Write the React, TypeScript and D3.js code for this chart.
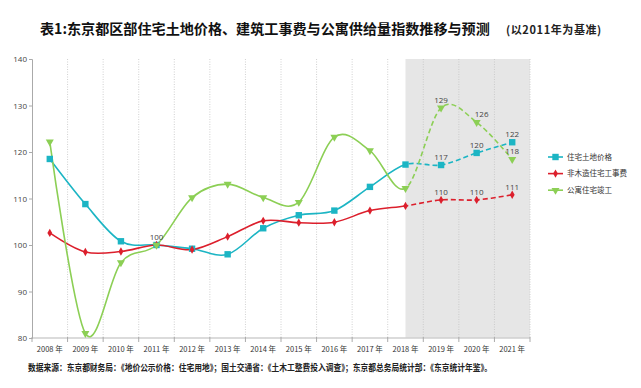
import * as d3 from "d3";
import { useRef, useEffect } from "react";

const years = ["2008", "2009", "2010", "2011", "2012", "2013", "2014", "2015", "2016", "2017", "2018", "2019", "2020", "2021"];
const landPrice = [118.5, 108.8, 100.8, 100, 99.2, 98.0, 103.6, 106.4, 107.4, 112.5, 117.3, 117.2, 119.8, 122.1];
const buildCost = [102.6, 98.5, 98.6, 100, 99.0, 101.8, 105.2, 104.8, 104.9, 107.4, 108.4, 109.7, 109.7, 110.8];
const aptSupply = [122.2, 81.0, 96.2, 100, 110.2, 113.1, 110.2, 109.2, 123.2, 120.3, 112.2, 129.5, 126.4, 118.4];
const seriesNames = ["住宅土地价格", "非木造住宅工事费", "公寓住宅竣工"];
const forecastFrom = "2018";
const labels: { s: number; i: number; text: string; dx: number }[] = [
    { s: 2, i: 3, text: "100", dx: 0 },
    { s: 0, i: 11, text: "117", dx: 0 },
    { s: 0, i: 12, text: "120", dx: 0 },
    { s: 0, i: 13, text: "122", dx: 0 },
    { s: 1, i: 11, text: "110", dx: 0 },
    { s: 1, i: 12, text: "110", dx: 0 },
    { s: 1, i: 13, text: "111", dx: 0 },
    { s: 2, i: 11, text: "129", dx: 0 },
    { s: 2, i: 12, text: "126", dx: 5 },
    { s: 2, i: 13, text: "118", dx: 0 },
];

export default function App() {
    const width = 641;
    const height = 388;
    const left = 32;
    const right = 530;
    const top = 59;
    const bottom = 338;
    const gy = useRef<SVGGElement>(null);
    const x = d3.scaleBand(years, [left, right]);
    const bw = x.bandwidth();
    const cx = (d: string) => (x(d) as number) + bw / 2;
    const y = d3.scaleLinear([80, 140], [bottom, top]);
    const all = [landPrice, buildCost, aptSupply];
    const colors = ["#1cb5c4", "#dc1f2c", "#8ccf55"];
    const line = d3.line<number>((_, i) => cx(years[i]), (d) => y(d)).curve(d3.curveCardinal.tension(0));
    const splitX = cx(forecastFrom);

    useEffect(() => {
        if (gy.current) {
            const g = d3.select(gy.current);
            g.selectAll("*").remove();
            g.call(d3.axisLeft(y).ticks(6).tickSize(3).tickPadding(2));
            g.select(".domain").attr("stroke", "#aaa");
            g.selectAll(".tick line").attr("stroke", "#aaa");
            g.selectAll(".tick text").attr("fill", "#444").attr("font-size", 8).attr("font-family", "Open Sans, sans-serif");
        }
    }, [gy, y]);

    const marker = (s: number, px: number, py: number, key: string) => {
        if (s === 0) return <rect key={key} x={px - 3.2} y={py - 3.2} width={6.4} height={6.4} fill={colors[0]} />;
        if (s === 1) return <path key={key} transform={`translate(${px},${py})`} d={d3.symbol(d3.symbolDiamond, 20)() || ""} fill={colors[1]} />;
        return <path key={key} transform={`translate(${px},${py}) rotate(180)`} d={d3.symbol(d3.symbolTriangle, 28)() || ""} fill={colors[2]} />;
    };

    const boundaries = d3.range(1, years.length + 1).map((i) => left + i * bw);

    return (
        <svg width={width} height={height} style={{ position: "absolute", left: 0, top: 0, background: "#fff" }}
            fontFamily="'Noto Sans CJK SC', sans-serif">
            <defs>
                <clipPath id="solidClip"><rect x={0} y={0} width={splitX} height={height} /></clipPath>
                <clipPath id="dashClip"><rect x={splitX} y={0} width={width - splitX} height={height} /></clipPath>
            </defs>
            <text x={40} y={34} fontSize={14.1} fontWeight="bold" fill="#111">
                表1:东京都区部住宅土地价格、建筑工事费与公寓供给量指数推移与预测
            </text>
            <text x={506} y={34} fontSize={11} fontWeight="bold" fill="#222" letterSpacing={0.6}>
                (以2011年为基准)
            </text>
            <rect x={splitX} y={top} width={right - splitX} height={bottom - top} fill="#e6e6e6" />
            <g stroke="#c4c4c4" strokeWidth={0.8} strokeDasharray="1,1.5">
                {boundaries.map((b, i) => <line key={i} x1={b} x2={b} y1={top} y2={bottom} />)}
            </g>
            <line x1={left} x2={right} y1={bottom} y2={bottom} stroke="#cfcfcf" strokeWidth={1.5} />
            <g stroke="#aaa">
                {[left, ...boundaries].map((b, i) => <line key={i} x1={b} x2={b} y1={bottom - 1} y2={bottom + 4} />)}
            </g>
            <g ref={gy} transform={`translate(${left},0)`} />
            <g fontSize={7.5} fill="#333" textAnchor="middle">
                {years.map((yr) => <text key={yr} x={cx(yr)} y={352}>{yr} 年</text>)}
            </g>
            {all.map((data, s) => (
                <g key={s} fill="none" stroke={colors[s]} strokeWidth={1.6}>
                    <path d={line(data) || ""} clipPath="url(#solidClip)" />
                    <path d={line(data) || ""} clipPath="url(#dashClip)" strokeDasharray="5,3" />
                </g>
            ))}
            {all.map((data, s) => (
                <g key={s}>{data.map((d, i) => marker(s, cx(years[i]), y(d), `${s}-${i}`))}</g>
            ))}
            <g fontSize={8} fill="#444" textAnchor="middle" fontFamily="'Open Sans', sans-serif">
                {labels.map((l, k) => (
                    <text key={k} x={cx(years[l.i]) + l.dx} y={y(all[l.s][l.i]) - 5}>{l.text}</text>
                ))}
            </g>
            {seriesNames.map((n, s) => {
                const ly = 157 + s * 16.6;
                return (
                    <g key={n}>
                        <line x1={548} x2={563} y1={ly} y2={ly} stroke={colors[s]} strokeWidth={1.6} />
                        {marker(s, 555.5, ly, `lg${s}`)}
                        <text x={567} y={ly + 2.6} fontSize={7.5} fill="#333">{n}</text>
                    </g>
                );
            })}
            <text x={28} y={371} fontSize={9} fontWeight="bold" fill="#222" textLength={464} lengthAdjust="spacingAndGlyphs">
                数据来源：东京都财务局：《地价公示价格：住宅用地》；国土交通省：《土木工整费投入调查》；东京都总务局统计部：《东京统计年鉴》。
            </text>
        </svg>
    );
}
